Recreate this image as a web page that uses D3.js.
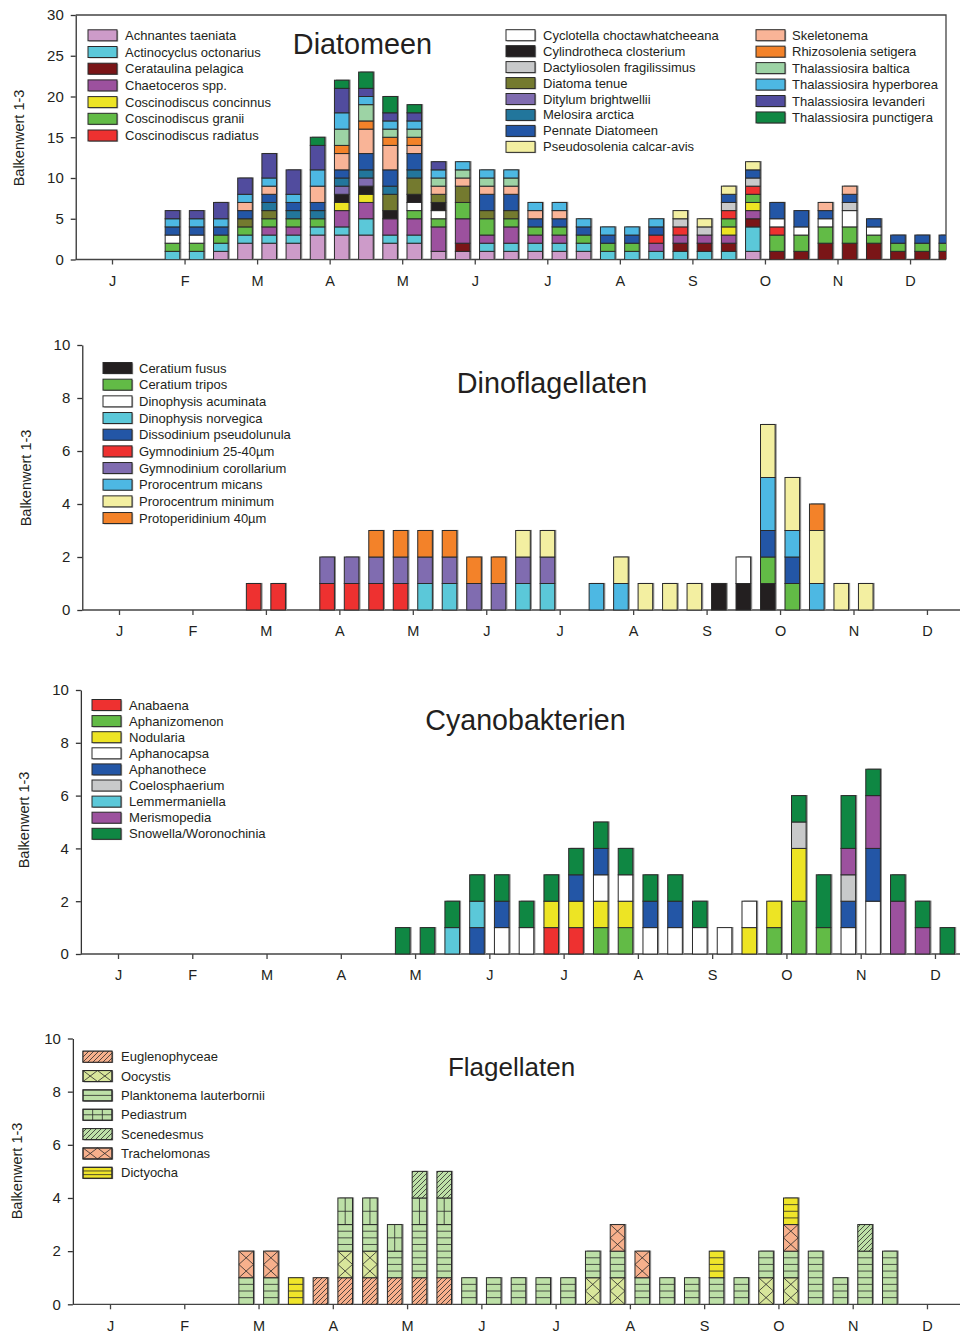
<!DOCTYPE html>
<html><head><meta charset="utf-8">
<script src="https://cdn.jsdelivr.net/npm/d3@7"></script>
<style>
body{margin:0;background:#fff}
svg{display:block}
text{font-family:"Liberation Sans",Arial,Helvetica,sans-serif;fill:#231f20}
</style>
</head><body>
<svg id="chart" width="960" height="1333"></svg>
<script>
// ---------------- DATA ----------------
const months = ["J","F","M","A","M","J","J","A","S","O","N","D"];
// sampling dekads (1..36 of the year)
const dekads = [3,4,5,6,7,8,9,10,11,12,13,14,15,16,17,18,19,20,21,22,23,24,25,26,27,28,29,30,31,32,33,34,35];

// Diatomeen
const diaSpecies = ["Achnantes taeniata","Actinocyclus octonarius","Cerataulina pelagica","Chaetoceros spp.",
  "Coscinodiscus concinnus","Coscinodiscus granii","Coscinodiscus radiatus","Cyclotella choctawhatcheeana",
  "Cylindrotheca closterium","Dactyliosolen fragilissimus","Diatoma tenue","Ditylum brightwellii",
  "Melosira arctica","Pennate Diatomeen","Pseudosolenia calcar-avis","Skeletonema","Rhizosolenia setigera",
  "Thalassiosira baltica","Thalassiosira hyperborea","Thalassiosira levanderi","Thalassiosira punctigera"];
const diaValues = [
  [0,0,1,2,2,2,3,3,3,2, 2,1,1,1,1,1,1,1,0,0, 0,0,0,0,1,0,0,0,0,0, 0,0,0],
  [1,1,1,1,1,1,1,1,2,1, 1,0,0,1,1,1,1,1,1,1, 1,1,1,1,3,0,0,0,0,0, 0,0,0],
  [0,0,0,0,0,0,0,0,0,0, 0,0,1,0,0,0,0,0,0,0, 0,1,1,1,1,1,1,2,2,2, 1,1,1],
  [0,0,0,0,1,1,0,2,2,2, 2,3,3,1,2,1,1,0,0,0, 1,1,1,1,1,0,0,0,0,0, 0,0,0],
  [0,0,0,0,0,0,0,1,1,0, 0,0,0,0,0,0,0,0,0,0, 0,0,0,1,1,0,0,0,0,0, 0,0,0],
  [1,1,1,1,1,1,1,0,0,0, 1,1,2,2,1,1,1,1,1,1, 0,0,0,1,1,2,2,2,2,1, 1,1,1],
  [0,0,0,0,0,0,0,0,0,0, 0,0,0,0,0,0,0,0,0,0, 1,1,0,1,1,1,0,0,0,0, 0,0,0],
  [1,1,0,0,0,0,0,0,0,0, 1,1,0,0,0,0,0,0,0,0, 0,0,0,0,0,1,1,1,2,1, 0,0,0],
  [0,0,0,0,0,0,0,1,1,1, 1,1,0,0,0,0,0,0,0,0, 0,0,0,0,0,0,0,0,0,0, 0,0,0],
  [0,0,0,0,0,0,0,0,0,0, 0,0,0,0,0,0,0,0,0,0, 0,1,1,1,1,0,0,0,1,0, 0,0,0],
  [0,0,0,1,1,0,0,0,0,2, 2,1,2,1,1,0,0,0,0,0, 0,0,0,0,0,0,0,0,0,0, 0,0,0],
  [0,0,0,0,0,0,0,1,1,0, 0,0,0,0,0,0,0,0,0,0, 0,0,0,0,0,0,0,0,0,0, 0,0,0],
  [0,0,0,0,1,1,1,1,1,1, 1,0,0,0,0,0,0,0,0,0, 0,0,0,0,0,0,0,0,0,0, 0,0,0],
  [1,1,1,1,1,1,1,1,2,2, 2,0,0,2,2,1,1,1,1,1, 1,0,0,1,1,2,2,1,1,1, 1,1,1],
  [0,0,0,0,0,0,0,0,0,0, 0,0,0,0,0,0,0,0,0,0, 0,1,1,1,1,0,0,0,0,0, 0,0,0],
  [0,0,0,1,1,0,2,2,3,3, 1,1,1,1,1,1,1,0,0,0, 0,0,0,0,0,0,0,1,1,0, 0,0,0],
  [0,0,0,0,0,0,0,1,1,1, 1,0,0,0,0,0,0,0,0,0, 0,0,0,0,0,0,0,0,0,0, 0,0,0],
  [0,0,0,0,0,0,0,2,2,1, 1,1,1,1,1,0,0,0,0,0, 0,0,0,0,0,0,0,0,0,0, 0,0,0],
  [1,1,1,1,1,1,2,2,1,1, 1,1,1,1,1,1,1,1,1,1, 1,0,0,0,0,0,0,0,0,0, 0,0,0],
  [1,1,2,2,3,3,3,3,1,1, 1,1,0,0,0,0,0,0,0,0, 0,0,0,0,0,0,0,0,0,0, 0,0,0],
  [0,0,0,0,0,0,1,1,2,2, 1,0,0,0,0,0,0,0,0,0, 0,0,0,0,0,0,0,0,0,0, 0,0,0]
];

// Dinoflagellaten
const dinoSpecies = ["Ceratium fusus","Ceratium tripos","Dinophysis acuminata","Dinophysis norvegica",
  "Dissodinium pseudolunula","Gymnodinium 25-40µm","Gymnodinium corollarium","Prorocentrum micans",
  "Prorocentrum minimum","Protoperidinium 40µm"];
const dinoValues = [
  [0,0,0,0,0,0,0,0,0,0, 0,0,0,0,0,0,0,0,0,0, 0,0,1,1,1,0,0,0,0,0, 0,0,0],
  [0,0,0,0,0,0,0,0,0,0, 0,0,0,0,0,0,0,0,0,0, 0,0,0,0,1,1,0,0,0,0, 0,0,0],
  [0,0,0,0,0,0,0,0,0,0, 0,0,0,0,0,0,0,0,0,0, 0,0,0,1,0,0,0,0,0,0, 0,0,0],
  [0,0,0,0,0,0,0,0,0,0, 1,1,0,0,1,1,0,0,0,0, 0,0,0,0,0,0,0,0,0,0, 0,0,0],
  [0,0,0,0,0,0,0,0,0,0, 0,0,0,0,0,0,0,0,0,0, 0,0,0,0,1,1,0,0,0,0, 0,0,0],
  [0,0,0,1,1,0,1,1,1,1, 0,0,0,0,0,0,0,0,0,0, 0,0,0,0,0,0,0,0,0,0, 0,0,0],
  [0,0,0,0,0,0,1,1,1,1, 1,1,1,1,1,1,0,0,0,0, 0,0,0,0,0,0,0,0,0,0, 0,0,0],
  [0,0,0,0,0,0,0,0,0,0, 0,0,0,0,0,0,0,1,1,0, 0,0,0,0,2,1,1,0,0,0, 0,0,0],
  [0,0,0,0,0,0,0,0,0,0, 0,0,0,0,1,1,0,0,1,1, 1,1,0,0,2,2,2,1,1,0, 0,0,0],
  [0,0,0,0,0,0,0,0,1,1, 1,1,1,1,0,0,0,0,0,0, 0,0,0,0,0,0,1,0,0,0, 0,0,0]
];

// Cyanobakterien
const cyanoSpecies = ["Anabaena","Aphanizomenon","Nodularia","Aphanocapsa","Aphanothece",
  "Coelosphaerium","Lemmermaniella","Merismopedia","Snowella/Woronochinia"];
const cyanoValues = [
  [0,0,0,0,0,0,0,0,0,0, 0,0,0,0,0,1,1,0,0,0, 0,0,0,0,0,0,0,0,0,0, 0,0,0],
  [0,0,0,0,0,0,0,0,0,0, 0,0,0,0,0,0,0,1,1,0, 0,0,0,0,1,2,1,0,0,0, 0,0,0],
  [0,0,0,0,0,0,0,0,0,0, 0,0,0,0,0,1,1,1,1,0, 0,0,0,1,1,2,0,0,0,0, 0,0,0],
  [0,0,0,0,0,0,0,0,0,0, 0,0,0,1,1,0,0,1,1,1, 1,1,1,1,0,0,0,1,2,0, 0,0,0],
  [0,0,0,0,0,0,0,0,0,0, 0,0,1,1,0,0,1,1,0,1, 1,0,0,0,0,0,0,1,2,0, 0,0,0],
  [0,0,0,0,0,0,0,0,0,0, 0,0,0,0,0,0,0,0,0,0, 0,0,0,0,0,1,0,1,0,0, 0,0,0],
  [0,0,0,0,0,0,0,0,0,0, 0,1,1,0,0,0,0,0,0,0, 0,0,0,0,0,0,0,0,0,0, 0,0,0],
  [0,0,0,0,0,0,0,0,0,0, 0,0,0,0,0,0,0,0,0,0, 0,0,0,0,0,0,0,1,2,2, 1,0,0],
  [0,0,0,0,0,0,0,0,0,1, 1,1,1,1,1,1,1,1,1,1, 1,1,0,0,0,1,2,2,1,1, 1,1,0]
];

// Flagellaten
const flagSpecies = ["Euglenophyceae","Oocystis","Planktonema lauterbornii","Pediastrum",
  "Scenedesmus","Trachelomonas","Dictyocha"];
const flagValues = [
  [0,0,0,0,0,0,1,1,1,1, 1,1,0,0,0,0,0,0,0,0, 0,0,0,0,0,0,0,0,0,0, 0,0,0],
  [0,0,0,0,0,0,0,1,1,0, 0,0,0,0,0,0,0,1,1,0, 0,0,0,0,1,1,0,0,0,0, 0,0,0],
  [0,0,0,1,1,0,0,1,1,1, 2,2,1,1,1,1,1,1,1,1, 1,1,1,1,1,1,2,1,2,2, 0,0,0],
  [0,0,0,0,0,0,0,1,1,1, 1,1,0,0,0,0,0,0,0,0, 0,0,0,0,0,0,0,0,0,0, 0,0,0],
  [0,0,0,0,0,0,0,0,0,0, 1,1,0,0,0,0,0,0,0,0, 0,0,0,0,0,0,0,0,1,0, 0,0,0],
  [0,0,0,1,1,0,0,0,0,0, 0,0,0,0,0,0,0,0,1,1, 0,0,0,0,0,1,0,0,0,0, 0,0,0],
  [0,0,0,0,0,1,0,0,0,0, 0,0,0,0,0,0,0,0,0,0, 0,0,1,0,0,1,0,0,0,0, 0,0,0]
];

// ---------------- STYLES ----------------
const diaColors = ["#cd9bc9","#5bc8d9","#7a1517","#9c519e","#ede424","#62bb46","#ee3130","#ffffff",
  "#231f20","#c8c9ca","#747a2f","#806cb0","#22769c","#2356a6","#f3efa1","#f9b497","#f38229",
  "#9dd3a5","#4db8e3","#514c9e","#0f8743"];
const dinoColors = ["#231f20","#62bb46","#ffffff","#5bc8d9","#2356a6","#ee3130","#806cb0","#4db8e3","#f3efa1","#f38229"];
const cyanoColors = ["#ee3130","#62bb46","#ede424","#ffffff","#2356a6","#c8c9ca","#5bc8d9","#9c519e","#0f8743"];
const flagColors = ["#f7b08c","#d8e69b","#bde0a7","#bde0a7","#bde0a7","#f7b08c","#efe52a"];
const flagHatch = ["diag","x","h","grid","diag","x","h"];

const font = '"Liberation Sans",Arial,Helvetica,sans-serif';

const panels = [
  {title:"Diatomeen", names:diaSpecies, values:diaValues, colors:diaColors,
   x0:112, mw:72.55, xEnd:946, y0:259.5, yTop:15, yMax:30, yStep:5, frame:true, clip:true,
   titlePos:[362.5,54], titleSize:28.8, ylab:[19,138], legendFont:13,
   legend:[{sx:88,tx:125,y:35.3,dy:16.7,from:0,to:7},{sx:506,tx:543,y:35.2,dy:15.95,from:7,to:15},{sx:756,tx:792,y:35.2,dy:16.45,from:15,to:21}]},
  {title:"Dinoflagellaten", names:dinoSpecies, values:dinoValues, colors:dinoColors,
   x0:119, mw:73.45, y0:610, yTop:345, yMax:10, yStep:2,
   titlePos:[552,393], titleSize:28.8, ylab:[26,478], legendFont:13,
   legend:[{sx:103,tx:139,y:368,dy:16.67,from:0,to:10}]},
  {title:"Cyanobakterien", names:cyanoSpecies, values:cyanoValues, colors:cyanoColors,
   x0:118, mw:74.27, y0:954, yTop:690, yMax:10, yStep:2,
   titlePos:[525.5,730], titleSize:28.6, ylab:[24,820], legendFont:13.1,
   legend:[{sx:92,tx:129,y:705,dy:16.1,from:0,to:9}]},
  {title:"Flagellaten", names:flagSpecies, values:flagValues, colors:flagColors, hatch:flagHatch,
   x0:110, mw:74.27, y0:1304.3, yTop:1038.5, yMax:10, yStep:2,
   titlePos:[511.5,1076], titleSize:26, ylab:[17,1171], legendFont:13,
   legend:[{sx:83,tx:121,y:1056.7,dy:19.35,from:0,to:7}]}
];

const svg = d3.select("#chart");
const defs = svg.append("defs");
["#f7b08c","#bde0a7"].forEach((c,i)=>{
  const p = defs.append("pattern").attr("id","diag"+i).attr("patternUnits","userSpaceOnUse")
    .attr("width",5).attr("height",5);
  p.append("rect").attr("width",5).attr("height",5).attr("fill",c);
  p.append("path").attr("d","M-1,1 L1,-1 M0,5 L5,0 M4,6 L6,4").attr("stroke","#2a2a2a").attr("stroke-width",0.8);
});

function hatch(g, type, color, x0, y0, w, h, u, legend, nLines) {
  const st = (sel)=>sel.attr("fill","none").attr("stroke","#2a2a2a").attr("stroke-width",0.8);
  if (type === "diag") {
    g.append("rect").attr("x",x0).attr("y",y0).attr("width",w).attr("height",h)
      .attr("fill", color === "#f7b08c" ? "url(#diag0)" : "url(#diag1)");
  } else if (type === "h") {
    let d = "";
    const n = legend ? nLines : Math.round(h/(u/4));
    for (let i=1;i<n;i++) d += `M${x0},${y0+i*h/n}H${x0+w}`;
    st(g.append("path").attr("d",d));
  } else if (type === "x") {
    let d = "";
    if (legend) {
      const n = 2, cw = w/n;
      for (let i=0;i<n;i++) d += `M${x0+i*cw},${y0}L${x0+(i+1)*cw},${y0+h}M${x0+(i+1)*cw},${y0}L${x0+i*cw},${y0+h}`;
    } else {
      const n = Math.round(h/(u/2)), ch = h/n;
      for (let i=0;i<n;i++) d += `M${x0},${y0+i*ch}L${x0+w},${y0+(i+1)*ch}M${x0+w},${y0+i*ch}L${x0},${y0+(i+1)*ch}`;
    }
    st(g.append("path").attr("d",d));
  } else if (type === "grid") {
    let d = "";
    if (legend) {
      d += `M${x0+w/3},${y0}V${y0+h}M${x0+2*w/3},${y0}V${y0+h}M${x0},${y0+h/2}H${x0+w}`;
    } else {
      d += `M${x0+w/2},${y0}V${y0+h}`;
      const n = Math.round(h/(u/2));
      for (let i=1;i<n;i++) d += `M${x0},${y0+i*h/n}H${x0+w}`;
    }
    st(g.append("path").attr("d",d));
  }
}

panels.forEach((P, pi) => {
  const g = svg.append("g");
  const x = d3.scaleLinear().domain([-0.5, 11.5]).range([P.x0 - 0.5*P.mw, P.x0 + 11.5*P.mw]);
  const y = d3.scaleLinear().domain([0, P.yMax]).range([P.y0, P.yTop]);
  const unit = y(0) - y(1);
  const xLeft = x(-0.5), xRight = P.xEnd || x(11.5);

  if (P.frame) {
    g.append("path").attr("d",`M${xLeft},${P.yTop}H${xRight}V${P.y0}`)
      .attr("fill","none").attr("stroke","#444").attr("stroke-width",1.3);
  }

  const ya = g.append("g").attr("transform",`translate(${xLeft},0)`)
    .call(d3.axisLeft(y).tickValues(d3.range(0, P.yMax + 0.001, P.yStep)).tickSize(5).tickSizeOuter(0).tickPadding(7));
  ya.selectAll("text").attr("font-size",15).attr("font-family",font).attr("fill","#231f20");
  ya.selectAll("line,path").attr("stroke","#333").attr("stroke-width",1.3);

  const xa = g.append("g").attr("transform",`translate(0,${P.y0})`)
    .call(d3.axisBottom(x).tickValues(d3.range(12)).tickFormat(i=>months[i]).tickSize(5).tickSizeOuter(0).tickPadding(11));
  xa.select(".domain").attr("d",`M${xLeft},0H${xRight}`);
  xa.selectAll("text").attr("font-size",14.5).attr("font-family",font).attr("fill","#231f20");
  xa.selectAll("line,path").attr("stroke","#444").attr("stroke-width",1.3);

  g.append("text").attr("transform",`translate(${P.ylab[0]},${P.ylab[1]}) rotate(-90)`)
    .attr("text-anchor","middle").attr("dominant-baseline","central").attr("font-size",14.5).text("Balkenwert 1-3");

  g.append("text").attr("x",P.titlePos[0]).attr("y",P.titlePos[1]).attr("text-anchor","middle")
    .attr("font-size",P.titleSize).text(P.title);

  P.legend.forEach(col => {
    for (let i = col.from; i < col.to; i++) {
      const cy = col.y + (i - col.from) * col.dy;
      g.append("rect").attr("x",col.sx+1.2).attr("y",cy-5.5+0.8).attr("width",29).attr("height",11).attr("fill","#9a9a9a");
      g.append("rect").attr("x",col.sx).attr("y",cy-5.5).attr("width",29).attr("height",11)
        .attr("fill",P.colors[i]).attr("stroke","#2a2a2a").attr("stroke-width",1);
      if (P.hatch) {
        hatch(g, P.hatch[i], P.colors[i], col.sx, cy-5.5, 29, 11, unit, true, i===6 ? 3 : 2);
        g.append("rect").attr("x",col.sx).attr("y",cy-5.5).attr("width",29).attr("height",11)
          .attr("fill","none").attr("stroke","#2a2a2a").attr("stroke-width",1);
      }
      g.append("text").attr("x",col.tx).attr("y",cy).attr("dominant-baseline","central")
        .attr("font-size",P.legendFont).text(P.names[i]);
    }
  });

  const rows = dekads.map((d, i) => {
    const r = {dekad: d};
    P.names.forEach((n, j) => r[n] = P.values[j][i]);
    return r;
  });
  const series = d3.stack().keys(P.names)(rows);
  const bw = 14.6;
  const pos = d => x((d - 0.5) / 3);

  const bars = g.append("g");
  if (P.clip) {
    defs.append("clipPath").attr("id","clip"+pi).append("rect")
      .attr("x",xLeft).attr("y",P.yTop).attr("width",xRight - xLeft).attr("height",P.y0 - P.yTop);
    bars.attr("clip-path",`url(#clip${pi})`);
  }
  const totals = rows.map(r => d3.sum(P.names, n => r[n]));
  bars.selectAll("rect.shadow").data(rows.filter((r,i)=>totals[i]>0)).join("rect")
    .attr("class","shadow")
    .attr("x", r => pos(r.dekad) - bw/2 + 1.6)
    .attr("y", r => y(d3.sum(P.names, n => r[n])) - 0.6)
    .attr("width", bw)
    .attr("height", r => y(0) - y(d3.sum(P.names, n => r[n])) + 0.6)
    .attr("fill","#8f8f8f");

  series.forEach((s, j) => {
    s.forEach(p => {
      if (p[1] - p[0] <= 0) return;
      const bx = pos(p.data.dekad) - bw/2, by = y(p[1]), bh = y(p[0]) - y(p[1]);
      bars.append("rect").attr("x",bx).attr("y",by).attr("width",bw).attr("height",bh)
        .attr("fill",P.colors[j]);
      if (P.hatch) hatch(bars, P.hatch[j], P.colors[j], bx, by, bw, bh, unit, false);
      bars.append("rect").attr("x",bx).attr("y",by).attr("width",bw).attr("height",bh)
        .attr("fill","none").attr("stroke","#2a2a2a").attr("stroke-width",1);
    });
  });
});
</script>
</body></html>
